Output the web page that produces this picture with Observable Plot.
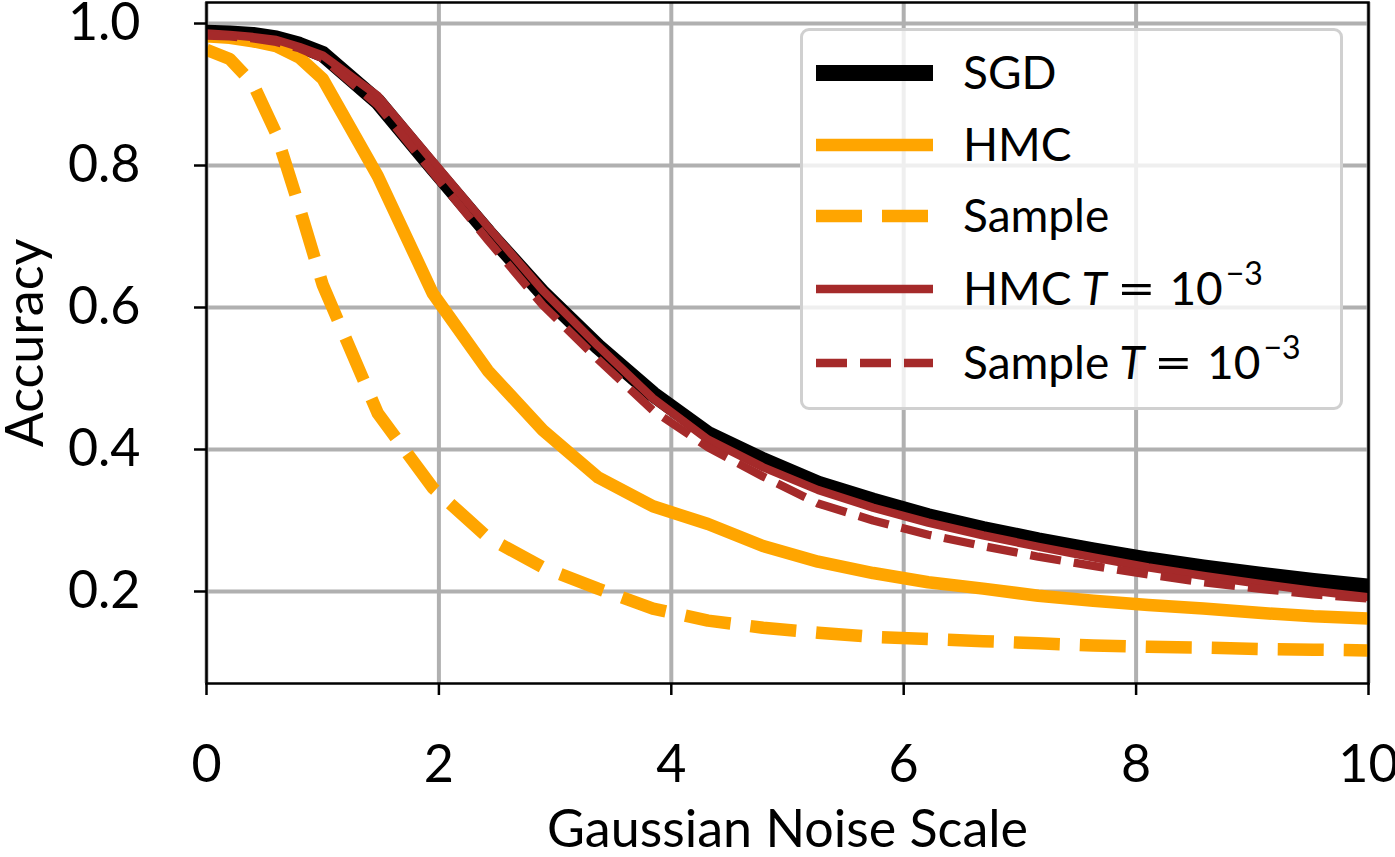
<!DOCTYPE html>
<html>
<head>
<meta charset="utf-8">
<script src="https://cdn.jsdelivr.net/npm/d3@7"></script>
<script src="https://cdn.jsdelivr.net/npm/@observablehq/plot@0.6"></script>
<style>
  html, body { margin: 0; padding: 0; background: #fff; }
  #wrap { position: relative; width: 1395px; height: 857px; font-family: Lato, "Open Sans", sans-serif; }
  #legend { position: absolute; left: 800px; top: 28px; width: 537px; height: 376px;
    border: 3px solid #d0d0d0; border-radius: 9px; background: rgba(255,255,255,0.8); }
  .row { position: absolute; left: 0; height: 60px; }
  .row svg { position: absolute; left: 10px; }
  .row span.lab { position: absolute; left: 160px; white-space: nowrap; font-size: 46px; color: #000; line-height: 1; }
  .eq { display: inline-block; transform: scaleX(1.45); margin: 0 20px 0 16px; }
  .it { display: inline-block; font-style: italic; margin-left: 10px; }
  sup { font-size: 32px; vertical-align: 0; position: relative; top: -20px; margin-left: 3px; }
</style>
</head>
<body>
<div id="wrap"></div>
<script>
// x values (Gaussian noise scale)
const xs = [0, 0.2, 0.4, 0.6, 0.8, 1.0, 1.474, 1.947, 2.421, 2.895, 3.368, 3.842, 4.316, 4.789, 5.263, 5.737, 6.211, 6.684, 7.158, 7.632, 8.105, 8.579, 9.053, 9.526, 10];
// series values (accuracy)
const sgd     = [0.987, 0.986, 0.984, 0.979, 0.970, 0.957, 0.890, 0.797, 0.706, 0.620, 0.545, 0.478, 0.422, 0.385, 0.352, 0.328, 0.306, 0.288, 0.272, 0.258, 0.245, 0.234, 0.224, 0.215, 0.207];
const hmc     = [0.982, 0.980, 0.975, 0.968, 0.952, 0.922, 0.785, 0.620, 0.511, 0.427, 0.361, 0.320, 0.295, 0.264, 0.242, 0.226, 0.213, 0.204, 0.194, 0.187, 0.181, 0.176, 0.170, 0.165, 0.162];
const sample  = [0.963, 0.950, 0.915, 0.845, 0.741, 0.632, 0.451, 0.346, 0.276, 0.234, 0.204, 0.176, 0.159, 0.149, 0.142, 0.136, 0.133, 0.130, 0.127, 0.124, 0.122, 0.121, 0.119, 0.118, 0.117];
const hmcT    = [0.986, 0.984, 0.981, 0.977, 0.967, 0.955, 0.898, 0.806, 0.714, 0.624, 0.546, 0.472, 0.414, 0.375, 0.343, 0.318, 0.297, 0.279, 0.263, 0.248, 0.234, 0.222, 0.211, 0.201, 0.192];
const sampleT = [0.983, 0.982, 0.979, 0.974, 0.965, 0.951, 0.885, 0.790, 0.695, 0.603, 0.527, 0.455, 0.403, 0.362, 0.324, 0.300, 0.280, 0.264, 0.249, 0.236, 0.224, 0.213, 0.204, 0.196, 0.190];

const xTicks = [0, 2, 4, 6, 8, 10];
const yTicks = [0.2, 0.4, 0.6, 0.8, 1.0];
const xLabel = "Gaussian Noise Scale";
const yLabel = "Accuracy";

const seriesDefs = [
  {key: "SGD", values: sgd, stroke: "#000000", width: 16, dash: null},
  {key: "HMC", values: hmc, stroke: "#ffa500", width: 12.5, dash: null},
  {key: "Sample", values: sample, stroke: "#ffa500", width: 12.5, dash: "46,20"},
  {key: "HMC T", values: hmcT, stroke: "#a52a2a", width: 8.3, dash: null},
  {key: "Sample T", values: sampleT, stroke: "#a52a2a", width: 8.3, dash: "31,13"}
];

const lineMarks = seriesDefs.map(s => {
  const rows = xs.map((x, i) => ({x, y: s.values[i]}));
  return Plot.line(rows, {
    x: "x", y: "y", stroke: s.stroke, strokeWidth: s.width,
    strokeDasharray: s.dash || undefined,
    strokeLinejoin: "round",
    strokeLinecap: s.dash ? "butt" : "square",
    clip: true
  });
});

const FS = 52;
const chart = Plot.plot({
  width: 1395, height: 857,
  marginLeft: 206, marginRight: 27, marginTop: 2, marginBottom: 174,
  style: {fontFamily: "Lato, 'Open Sans', sans-serif", background: "#fff", color: "#000"},
  x: {domain: [0, 10]},
  y: {domain: [0.0704, 1.0296]},
  marks: [
    Plot.gridX(xTicks, {stroke: "#b0b0b0", strokeOpacity: 1, strokeWidth: 4}),
    Plot.gridY(yTicks, {stroke: "#b0b0b0", strokeOpacity: 1, strokeWidth: 4}),
    ...lineMarks,
    Plot.frame({stroke: "#000", strokeWidth: 2.5}),
    Plot.axisX(xTicks, {tickSize: 12, tickPadding: 50, strokeWidth: 2.5, fontSize: FS, tickFormat: d => String(d), label: null}),
    Plot.axisY(yTicks, {tickSize: 12, tickPadding: 54, strokeWidth: 2.5, fontSize: FS, tickFormat: d3.format(".1f"), label: null}),
    Plot.text([xLabel], {frameAnchor: "bottom", dy: 147, fontSize: FS, lineAnchor: "middle", textAnchor: "middle", text: d => d}),
    Plot.text([yLabel], {frameAnchor: "left", dx: -180, rotate: -90, fontSize: FS, lineAnchor: "middle", textAnchor: "middle", text: d => d})
  ]
});

const wrap = document.getElementById("wrap");
wrap.appendChild(chart);

// Legend
const legend = document.createElement("div");
legend.id = "legend";
const labelsHtml = [
  "SGD",
  "HMC",
  "Sample",
  "HMC<span class='it'>T</span><span class='eq'>=</span>10<sup>−3</sup>",
  "Sample<span class='it'>T</span><span class='eq'>=</span>10<sup>−3</sup>"
];
const rowCenters = [42, 114, 185, 258, 332];
seriesDefs.forEach((s, i) => {
  const row = document.createElement("div");
  row.className = "row";
  row.style.top = (rowCenters[i] - 30) + "px";
  const svgNS = "http://www.w3.org/2000/svg";
  const svg = document.createElementNS(svgNS, "svg");
  svg.setAttribute("width", 130); svg.setAttribute("height", 60);
  svg.style.top = "0px";
  const ln = document.createElementNS(svgNS, "line");
  const pad = s.dash ? 0 : s.width / 2;
  ln.setAttribute("x1", 3 + pad); ln.setAttribute("x2", 120 - pad);
  ln.setAttribute("y1", 30); ln.setAttribute("y2", 30);
  ln.setAttribute("stroke", s.stroke);
  ln.setAttribute("stroke-width", s.width);
  ln.setAttribute("stroke-linecap", s.dash ? "butt" : "square");
  if (s.dash) ln.setAttribute("stroke-dasharray", s.dash);
  svg.appendChild(ln);
  row.appendChild(svg);
  const sp = document.createElement("span");
  sp.className = "lab";
  sp.innerHTML = labelsHtml[i];
  sp.style.top = "6px";
  row.appendChild(sp);
  legend.appendChild(row);
});
wrap.appendChild(legend);
</script>
</body>
</html>
